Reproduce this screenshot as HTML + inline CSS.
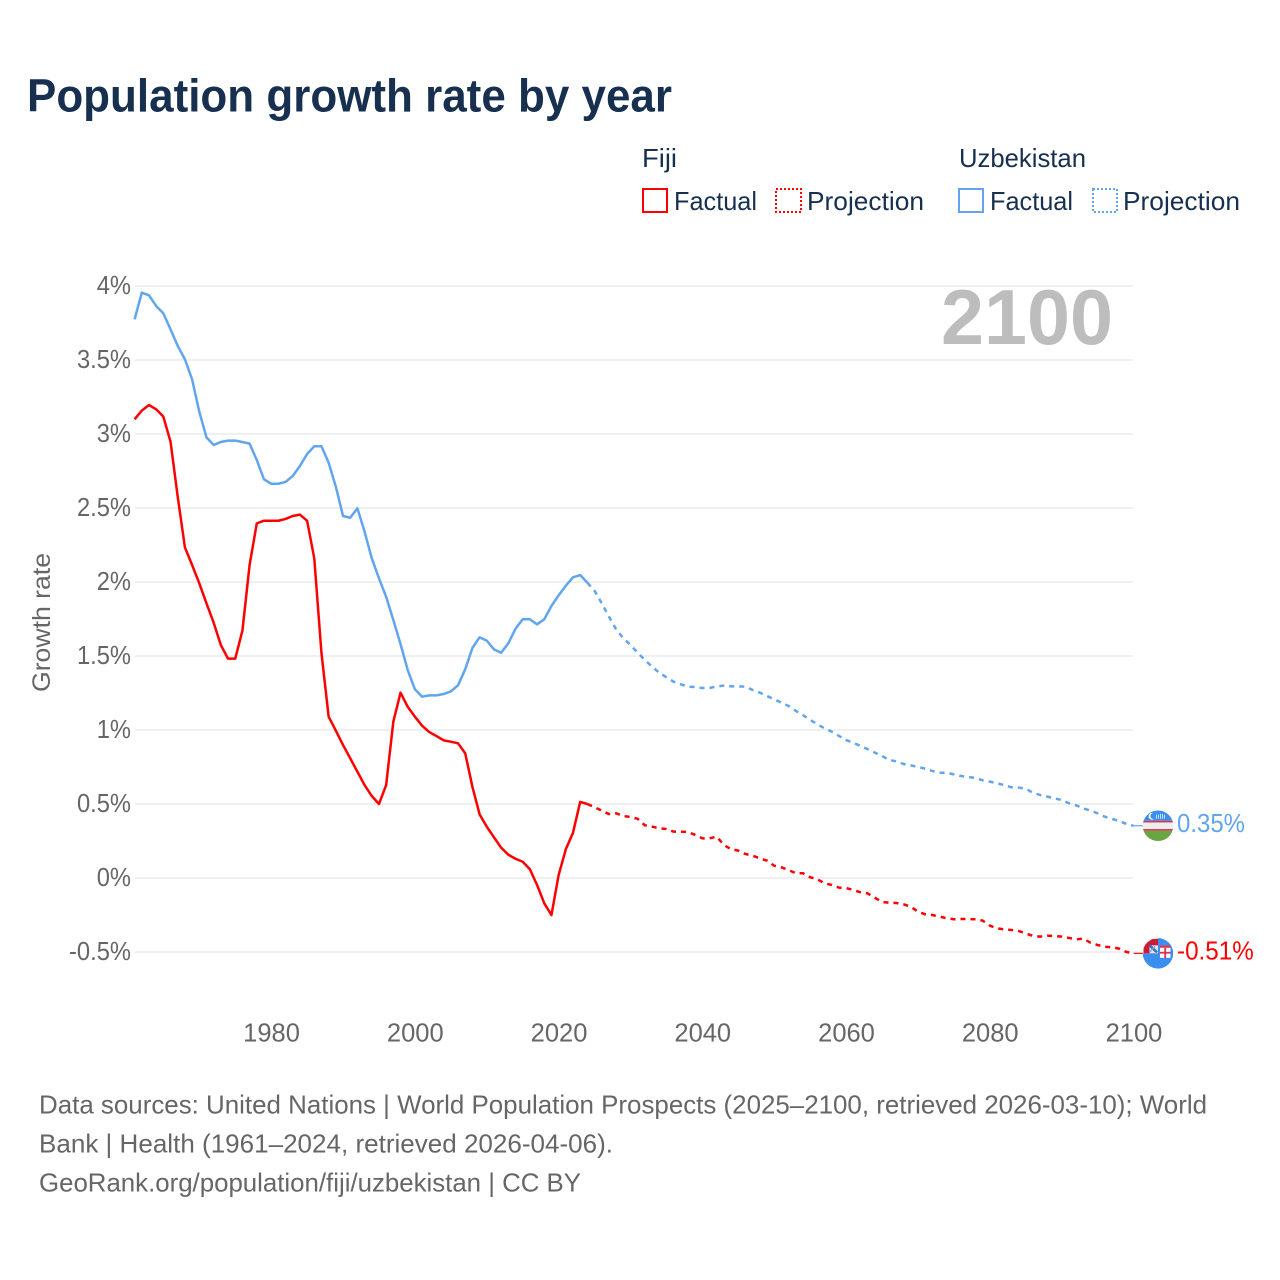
<!DOCTYPE html>
<html lang="en">
<head>
<meta charset="utf-8">
<title>Population growth rate by year</title>
<style>
html,body{margin:0;padding:0;background:#fff;}
svg{display:block;font-family:"Liberation Sans",sans-serif;}
</style>
</head>
<body>
<svg id="chart" xmlns="http://www.w3.org/2000/svg" width="1280" height="1280" viewBox="0 0 1280 1280">
  <rect x="0" y="0" width="1280" height="1280" fill="#fff"/>
  <text x="27" y="111.5" font-size="46" font-weight="700" fill="#18304f" textLength="645" lengthAdjust="spacingAndGlyphs">Population growth rate by year</text>

  <g font-size="26" fill="#18304f">
    <text x="642" y="167" textLength="35" lengthAdjust="spacingAndGlyphs">Fiji</text>
    <text x="959" y="167" textLength="127" lengthAdjust="spacingAndGlyphs">Uzbekistan</text>
    <rect x="643" y="189" width="24" height="23" fill="none" stroke="#ff0000" stroke-width="2"/>
    <text x="674" y="210" textLength="83" lengthAdjust="spacingAndGlyphs">Factual</text>
    <rect x="776" y="189" width="25" height="23" fill="none" stroke="#ff0000" stroke-width="2" stroke-dasharray="2 2"/>
    <text x="807" y="210" textLength="117" lengthAdjust="spacingAndGlyphs">Projection</text>
    <rect x="959" y="189" width="24" height="23" fill="none" stroke="#60a5ee" stroke-width="2"/>
    <text x="990" y="210" textLength="83" lengthAdjust="spacingAndGlyphs">Factual</text>
    <rect x="1093" y="189" width="24" height="23" fill="none" stroke="#60a5ee" stroke-width="2" stroke-dasharray="2 2"/>
    <text x="1123" y="210" textLength="117" lengthAdjust="spacingAndGlyphs">Projection</text>
  </g>

  <g id="grid"></g>
  <g id="y-ticks"></g>
  <g id="x-ticks"></g>

  <text transform="translate(50,622.5) rotate(-90)" text-anchor="middle" font-size="25" fill="#666" textLength="139" lengthAdjust="spacingAndGlyphs">Growth rate</text>
  <text x="941" y="344" font-size="78" font-weight="700" fill="#bdbdbd" textLength="172" lengthAdjust="spacingAndGlyphs">2100</text>

  <g id="series"></g>

  <defs>
    <clipPath id="flag-clip"><circle cx="0" cy="0" r="15.3"/></clipPath>
  </defs>

  <g id="flag-uzbekistan">
    <g clip-path="url(#flag-clip)">
      <rect x="-16" y="-16" width="32" height="11" fill="#3a8ef0"/>
      <rect x="-16" y="-5" width="32" height="1.7" fill="#d8324e"/>
      <rect x="-16" y="-3.3" width="32" height="6.6" fill="#eeeeee"/>
      <rect x="-16" y="3.3" width="32" height="1.7" fill="#d8324e"/>
      <rect x="-16" y="5" width="32" height="11" fill="#6aa544"/>
      <circle cx="-6" cy="-9.5" r="3.4" fill="#fff"/>
      <circle cx="-4.6" cy="-9.8" r="3" fill="#3a8ef0"/>
      <rect x="-2" y="-11" width="1" height="4" fill="#cfe2fb"/>
      <rect x="0" y="-11" width="1" height="4" fill="#cfe2fb"/>
      <rect x="2" y="-12" width="1" height="5" fill="#cfe2fb"/>
      <rect x="4" y="-12" width="1" height="5" fill="#cfe2fb"/>
      <rect x="6" y="-11" width="1" height="4" fill="#cfe2fb"/>
    </g>
  </g>

  <g id="flag-fiji">
    <g clip-path="url(#flag-clip)">
      <circle cx="0" cy="0" r="15.3" fill="#3a8ef0"/>
      <path d="M-16,-16H0V0H-16Z" fill="#fff"/>
      <path d="M-14.5,0V-8Q-14.5,-14.5 -7,-14.5H0V0Z" fill="#ce1a34"/>
      <rect x="-8.5" y="-8" width="8.5" height="8" fill="#dfe6f4"/>
      <path d="M-8.5,-8L-1,-1" stroke="#3a6fc0" stroke-width="2.6"/>
      <path d="M-8.5,-1L-3,-7" stroke="#7fa3dc" stroke-width="1.2"/>
      <rect x="2" y="-8" width="10.5" height="12.5" fill="#fff"/>
      <rect x="2" y="-8" width="10.5" height="2.4" fill="#d8324e"/>
      <rect x="6.3" y="-5.6" width="1.8" height="10.5" fill="#d8324e"/>
      <rect x="2" y="-1.5" width="10.5" height="1.8" fill="#d8324e"/>
    </g>
  </g>

  <g font-size="26" fill="#666">
    <text x="39" y="1113.5" textLength="1168" lengthAdjust="spacingAndGlyphs">Data sources: United Nations | World Population Prospects (2025–2100, retrieved 2026-03-10); World</text>
    <text x="39" y="1152.5" textLength="574" lengthAdjust="spacingAndGlyphs">Bank | Health (1961–2024, retrieved 2026-04-06).</text>
    <text x="39" y="1191.5" textLength="542" lengthAdjust="spacingAndGlyphs">GeoRank.org/population/fiji/uzbekistan | CC BY</text>
  </g>
</svg>

<script>
// Data (growth rate, % per year)
const factualStartYear = 1961;
const projectionStartYear = 2025;

const fijiFactual = [3.099,3.158,3.196,3.167,3.117,2.948,2.576,2.234,2.115,1.991,1.856,1.725,1.574,1.482,1.482,1.671,2.115,2.396,2.414,2.414,2.414,2.426,2.446,2.455,2.414,2.16,1.52,1.09,0.995,0.899,0.809,0.718,0.628,0.554,0.50,0.628,1.056,1.252,1.157,1.09,1.029,0.986,0.959,0.93,0.921,0.91,0.843,0.617,0.43,0.347,0.275,0.205,0.157,0.13,0.11,0.059,-0.047,-0.171,-0.25,0.02,0.194,0.306,0.514,0.50];

const fijiProjection = [0.478,0.455,0.432,0.437,0.419,0.412,0.40,0.356,0.347,0.336,0.331,0.313,0.313,0.311,0.291,0.268,0.268,0.279,0.223,0.194,0.185,0.162,0.151,0.133,0.117,0.083,0.072,0.054,0.032,0.032,0.005,-0.009,-0.036,-0.047,-0.065,-0.068,-0.081,-0.097,-0.104,-0.133,-0.162,-0.167,-0.169,-0.178,-0.194,-0.228,-0.245,-0.25,-0.261,-0.272,-0.279,-0.277,-0.277,-0.279,-0.288,-0.322,-0.34,-0.347,-0.351,-0.358,-0.374,-0.392,-0.396,-0.39,-0.392,-0.396,-0.405,-0.414,-0.41,-0.437,-0.453,-0.464,-0.468,-0.477,-0.50,-0.509];

const uzbekistanFactual = [3.775,3.955,3.937,3.865,3.815,3.707,3.595,3.505,3.369,3.151,2.977,2.926,2.946,2.955,2.955,2.946,2.935,2.824,2.694,2.664,2.664,2.676,2.716,2.784,2.865,2.917,2.917,2.806,2.644,2.446,2.434,2.498,2.34,2.16,2.025,1.90,1.743,1.581,1.405,1.275,1.225,1.234,1.234,1.243,1.261,1.302,1.41,1.554,1.626,1.604,1.545,1.522,1.586,1.684,1.748,1.748,1.714,1.748,1.838,1.91,1.975,2.032,2.047,1.995];

const uzbekistanProjection = [1.941,1.856,1.766,1.68,1.62,1.574,1.522,1.473,1.428,1.387,1.356,1.326,1.309,1.293,1.29,1.284,1.284,1.295,1.30,1.295,1.295,1.293,1.27,1.252,1.23,1.207,1.185,1.162,1.13,1.10,1.068,1.039,1.011,0.989,0.96,0.932,0.914,0.892,0.87,0.847,0.824,0.797,0.788,0.77,0.761,0.75,0.739,0.723,0.711,0.711,0.70,0.689,0.682,0.676,0.66,0.651,0.64,0.628,0.613,0.611,0.603,0.576,0.561,0.55,0.538,0.527,0.505,0.491,0.471,0.455,0.437,0.414,0.399,0.385,0.365,0.353];

const yTickValues = [-0.5,0,0.5,1,1.5,2,2.5,3,3.5,4];
const yTickLabels = ["-0.5%","0%","0.5%","1%","1.5%","2%","2.5%","3%","3.5%","4%"];
const xTickValues = [1980,2000,2020,2040,2060,2080,2100];
const xTickLabels = ["1980","2000","2020","2040","2060","2080","2100"];

const fijiEndLabel = "-0.51%";
const uzbekistanEndLabel = "0.35%";

// Axis functions
function xScale(year){ return 134.6 + (year - 1961) * 7.187; }
function yScale(rate){ return 878 - rate * 148; }

const NS = "http://www.w3.org/2000/svg";
const svg = document.getElementById("chart");
const gridLayer = document.getElementById("grid");
const yLayer = document.getElementById("y-ticks");
const xLayer = document.getElementById("x-ticks");
const seriesLayer = document.getElementById("series");

function makeText(parent, str, x, y, size, fill, anchor){
  const t = document.createElementNS(NS, "text");
  t.textContent = str;
  t.setAttribute("x", x);
  t.setAttribute("y", y);
  t.setAttribute("font-size", size);
  t.setAttribute("fill", fill);
  t.setAttribute("text-anchor", anchor);
  parent.appendChild(t);
  return t;
}

// Lato-like percent labels are a little narrower than Liberation Sans
function condense(t, factor){
  t.setAttribute("textLength", (t.getComputedTextLength() * factor).toFixed(2));
  t.setAttribute("lengthAdjust", "spacingAndGlyphs");
}

function makeLine(parent, x1, y1, x2, y2, stroke, width){
  const l = document.createElementNS(NS, "line");
  l.setAttribute("x1", x1);
  l.setAttribute("y1", y1);
  l.setAttribute("x2", x2);
  l.setAttribute("y2", y2);
  l.setAttribute("stroke", stroke);
  l.setAttribute("stroke-width", width);
  parent.appendChild(l);
  return l;
}

function makePath(parent, points, stroke, dash){
  const p = document.createElementNS(NS, "path");
  const d = points.map(function(pt, i){
    return (i ? "L" : "M") + xScale(pt[0]).toFixed(2) + "," + yScale(pt[1]).toFixed(2);
  }).join("");
  p.setAttribute("d", d);
  p.setAttribute("fill", "none");
  p.setAttribute("stroke", stroke);
  p.setAttribute("stroke-width", "2.5");
  p.setAttribute("stroke-linejoin", "round");
  if (dash) p.setAttribute("stroke-dasharray", dash);
  parent.appendChild(p);
  return p;
}

function toPoints(values, startYear){
  return values.map(function(v, i){ return [startYear + i, v]; });
}

// Grid and y ticks
yTickValues.forEach(function(v, i){
  const g = makeLine(gridLayer, 135, yScale(v), 1133, yScale(v), "#ececec", 1.5);
  
  
  const t = makeText(yLayer, yTickLabels[i], 131, yScale(v) + 8, 25.5, "#666", "end");
  
  
  condense(t, 0.93);
});

// X ticks
xTickValues.forEach(function(v, i){
  const t = makeText(xLayer, xTickLabels[i], xScale(v) + 0.4, 1041.5, 25.5, "#666", "middle");
  
  
});

// Series
const fijiColor = "#ff0000";
const uzbekistanColor = "#60a5ee";
const dashPattern = "5 5";

const fijiFactualPoints = toPoints(fijiFactual, factualStartYear);
const fijiProjectionPoints = toPoints(fijiProjection, projectionStartYear);
const uzbekistanFactualPoints = toPoints(uzbekistanFactual, factualStartYear);
const uzbekistanProjectionPoints = toPoints(uzbekistanProjection, projectionStartYear);

const uzbF = makePath(seriesLayer, uzbekistanFactualPoints, uzbekistanColor, null);



const uzbP = makePath(seriesLayer, [uzbekistanFactualPoints[uzbekistanFactualPoints.length - 1]].concat(uzbekistanProjectionPoints), uzbekistanColor, dashPattern);



const fijF = makePath(seriesLayer, fijiFactualPoints, fijiColor, null);



const fijP = makePath(seriesLayer, [fijiFactualPoints[fijiFactualPoints.length - 1]].concat(fijiProjectionPoints), fijiColor, dashPattern);



// End markers
const lastYear = 2100;
const markerX = 1158;
const uzbLast = uzbekistanProjection[uzbekistanProjection.length - 1];
const fijLast = fijiProjection[fijiProjection.length - 1];

const uzbConnector = makeLine(seriesLayer, xScale(lastYear), yScale(uzbLast), markerX - 15, yScale(uzbLast), uzbekistanColor, 1.2);



const fijConnector = makeLine(seriesLayer, xScale(lastYear), yScale(fijLast), markerX - 15, yScale(fijLast), fijiColor, 1.2);



document.getElementById("flag-uzbekistan").setAttribute("transform", "translate(" + markerX + "," + yScale(uzbLast).toFixed(2) + ")");
document.getElementById("flag-fiji").setAttribute("transform", "translate(" + markerX + "," + yScale(fijLast).toFixed(2) + ")");

const uzbLabel = makeText(svg, uzbekistanEndLabel, 1177, yScale(uzbLast) + 6, 25.5, uzbekistanColor, "start");


condense(uzbLabel, 0.94);

const fijLabel = makeText(svg, fijiEndLabel, 1177, yScale(fijLast) + 6, 25.5, fijiColor, "start");


condense(fijLabel, 0.95);
</script>
</body>
</html>
